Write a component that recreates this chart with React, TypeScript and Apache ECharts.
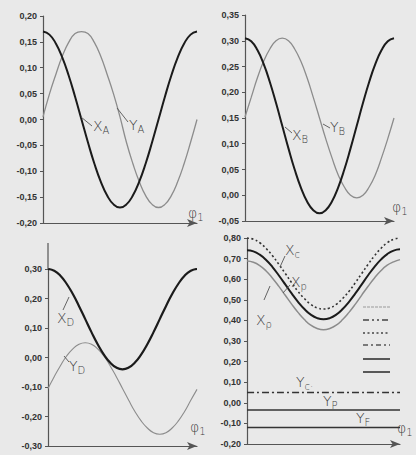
import React, { useEffect, useRef } from "react";
import * as echarts from "echarts";

// phase angle φ1 in degrees (category axis, no labels shown)
const phi = [0, 15, 30, 45, 60, 75, 90, 105, 120, 135, 150, 165, 180, 195, 210, 225, 240, 255, 270, 285, 300, 315, 330, 345, 360];

// Panel A
const xA = [0.170, 0.164, 0.147, 0.120, 0.085, 0.044, 0.000, -0.044, -0.085, -0.120, -0.147, -0.164, -0.170, -0.164, -0.147, -0.120, -0.085, -0.044, 0.000, 0.044, 0.085, 0.120, 0.147, 0.164, 0.170];
const yA = [0.005, 0.049, 0.087, 0.122, 0.149, 0.166, 0.170, 0.166, 0.149, 0.122, 0.087, 0.049, 0.005, -0.044, -0.085, -0.120, -0.147, -0.164, -0.170, -0.164, -0.147, -0.120, -0.085, -0.044, 0.000];

// Panel B
const xB = [0.305, 0.299, 0.282, 0.255, 0.220, 0.179, 0.135, 0.091, 0.050, 0.015, -0.012, -0.029, -0.035, -0.029, -0.012, 0.015, 0.050, 0.091, 0.135, 0.179, 0.220, 0.255, 0.282, 0.299, 0.305];
const yB = [0.152, 0.190, 0.228, 0.260, 0.284, 0.300, 0.305, 0.300, 0.284, 0.260, 0.228, 0.190, 0.150, 0.110, 0.073, 0.040, 0.016, 0.000, -0.005, 0.000, 0.016, 0.040, 0.073, 0.110, 0.150];

// Panel D
const xD = [0.300, 0.294, 0.277, 0.250, 0.215, 0.174, 0.130, 0.086, 0.045, 0.010, -0.017, -0.034, -0.040, -0.034, -0.017, 0.010, 0.045, 0.086, 0.130, 0.174, 0.215, 0.250, 0.277, 0.294, 0.300];
const yD = [-0.105, -0.065, -0.028, 0.005, 0.029, 0.045, 0.050, 0.045, 0.029, 0.005, -0.028, -0.065, -0.105, -0.145, -0.183, -0.215, -0.239, -0.255, -0.260, -0.255, -0.239, -0.215, -0.183, -0.145, -0.108];

// Panel C / P
const xC = [0.800, 0.794, 0.777, 0.749, 0.714, 0.672, 0.628, 0.583, 0.541, 0.506, 0.478, 0.461, 0.455, 0.461, 0.478, 0.506, 0.541, 0.583, 0.628, 0.672, 0.714, 0.749, 0.777, 0.794, 0.800];
const xP = [0.740, 0.735, 0.719, 0.693, 0.659, 0.618, 0.575, 0.531, 0.490, 0.455, 0.428, 0.411, 0.405, 0.411, 0.428, 0.455, 0.490, 0.531, 0.575, 0.619, 0.660, 0.695, 0.722, 0.739, 0.745];
const xRho = [0.688, 0.682, 0.666, 0.640, 0.605, 0.565, 0.522, 0.479, 0.439, 0.404, 0.377, 0.361, 0.355, 0.361, 0.377, 0.404, 0.439, 0.479, 0.523, 0.566, 0.606, 0.641, 0.668, 0.684, 0.695];
const yC = phi.map(() => 0.05);
const yP = phi.map(() => -0.035);
const yF = phi.map(() => -0.12);

const BLACK = "#1b1b1b";
const GRAY = "#8c8c8c";
const AXIS = "#555";
const INK = "#3c3c3c";

export default function App() {
  const ref = useRef<HTMLDivElement>(null);
  useEffect(() => {
    if (!ref.current) return;
    const chart = echarts.init(ref.current, null, { renderer: "svg" });
    const fmt = (v: number) => v.toFixed(2).replace(".", ",");
    const grids = [
      { left: 43, top: 16, width: 154, height: 207 },
      { left: 245, top: 15, width: 149, height: 206 },
      { left: 48, top: 269, width: 149, height: 177 },
      { left: 247, top: 238, width: 153, height: 206 },
    ];
    const yr = [
      { min: -0.2, max: 0.2, interval: 0.05 },
      { min: -0.05, max: 0.35, interval: 0.05 },
      { min: -0.3, max: 0.3, interval: 0.1 },
      { min: -0.2, max: 0.8, interval: 0.1 },
    ];
    const xAxis = grids.map((_, i) => ({
      type: "category",
      gridIndex: i,
      data: phi,
      boundaryGap: false,
      axisLabel: { show: false },
      axisTick: { show: false },
      splitLine: { show: false },
      axisLine: {
        onZero: false,
        symbol: ["none", "arrow"],
        symbolSize: [6, 10],
        lineStyle: { color: AXIS, width: 1.2 },
      },
    }));
    const yAxis = yr.map((r, i) => ({
      type: "value",
      gridIndex: i,
      min: r.min,
      max: r.max,
      interval: r.interval,
      splitLine: { show: false },
      axisLine: { show: true, lineStyle: { color: AXIS, width: 1.2 } },
      axisTick: { show: true, length: 3, lineStyle: { color: AXIS } },
      axisLabel: {
        formatter: fmt,
        fontSize: 9,
        fontWeight: "bold",
        color: "#333",
        fontFamily: "Liberation Sans, Arial, sans-serif",
        margin: 6,
      },
    }));
    const line = (data: number[], gi: number, color: string, width: number, type: any = "solid", z = 2) => ({
      type: "line",
      xAxisIndex: gi,
      yAxisIndex: gi,
      data,
      smooth: true,
      showSymbol: false,
      symbol: "none",
      z,
      lineStyle: { color, width, type },
    });
    const series = [
      line(yA, 0, GRAY, 1.3),
      line(xA, 0, BLACK, 2, "solid", 3),
      line(yB, 1, GRAY, 1.3),
      line(xB, 1, BLACK, 2, "solid", 3),
      line(yD, 2, GRAY, 1.1),
      line(xD, 2, BLACK, 2.2, "solid", 3),
      line(xC, 3, "#333", 1.6, [2, 2.5]),
      line(xP, 3, BLACK, 2, "solid", 3),
      line(xRho, 3, GRAY, 1.5),
      line(yC, 3, "#333", 1.4, [7, 3, 2, 3]),
      line(yP, 3, "#333", 1.5),
      line(yF, 3, "#333", 1.5),
    ];

    const hand = (x: number, y: number, main: string, sub: string) => ({
      type: "text",
      x,
      y,
      style: {
        text: `{m|${main}}{s|${sub}}`,
        fill: INK,
        rich: {
          m: { fontSize: 14, fontFamily: "DejaVu Sans", fontWeight: 200, fill: INK, color: INK } as any,
          s: { fontSize: 10, fontFamily: "DejaVu Sans", fontWeight: 200, fill: INK, color: INK, padding: [8, 0, 0, 0] } as any,
        },
        verticalAlign: "middle",
      },
      z: 10,
    });
    const seg = (x1: number, y1: number, x2: number, y2: number, stroke = "#555", lineWidth = 0.9, lineDash?: number[]) => ({
      type: "line",
      shape: { x1, y1, x2, y2 },
      style: { stroke, lineWidth, lineDash },
      z: 10,
    });

    const graphic: any[] = [
      // Panel A labels
      seg(81, 117, 92, 126),
      hand(93, 126, "X", "A"),
      seg(117, 108, 128, 122),
      hand(129, 125, "Y", "A"),
      hand(188, 213, "\u03C6", "1"),
      // Panel B labels
      seg(285, 127, 292, 133),
      hand(292, 135, "X", "B"),
      seg(323, 124, 330, 128),
      hand(330, 127, "Y", "B"),
      hand(392, 207, "\u03C6", "1"),
      // Panel D labels
      seg(48, 269, 48, 243, AXIS, 1.2),
      seg(69, 297, 63, 310),
      hand(57, 318, "X", "D"),
      seg(64, 356, 69, 362),
      hand(69, 366, "Y", "D"),
      hand(190, 427, "\u03C6", "1"),
      // Panel C/P labels
      seg(280, 267, 285, 256),
      hand(285, 250, "X", "c"),
      seg(283, 293, 290, 285),
      hand(291, 282, "X", "p"),
      seg(270, 286, 264, 300),
      hand(256, 320, "X", "\u03C1"),
      hand(296, 382, "Y", "c\u00B7"),
      hand(323, 401, "Y", "P"),
      hand(356, 418, "Y", "F"),
      hand(397, 428, "\u03C6", "1"),
      // legend samples (no text)
      seg(363, 307, 390, 307, "#9a9a9a", 1.2, [3, 1]),
      seg(363, 320, 390, 320, "#444", 1.4, [6, 3, 2, 3, 2, 3]),
      seg(363, 333, 390, 333, "#444", 1.5, [2, 2.5]),
      seg(363, 345, 390, 345, "#555", 1.4, [5, 3, 2, 3]),
      seg(363, 359, 390, 359, "#333", 1.6),
      seg(363, 372, 390, 372, "#333", 1.6),
    ];

    chart.setOption({
      animation: false,
      backgroundColor: "#e9e9e9",
      grid: grids,
      xAxis,
      yAxis,
      series,
      graphic,
    } as any);
    return () => chart.dispose();
  }, []);
  return <div ref={ref} style={{ position: "fixed", left: 0, top: 0, width: 416, height: 455 }} />;
}
